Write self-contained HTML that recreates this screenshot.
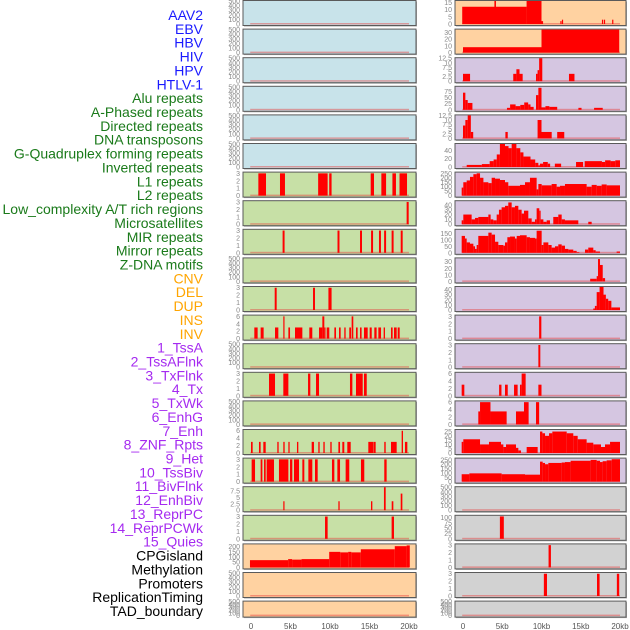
<!DOCTYPE html>
<html><head><meta charset="utf-8">
<style>
html,body{margin:0;padding:0;background:#fff;width:630px;height:630px;overflow:hidden}
svg{display:block;font-family:"Liberation Sans",sans-serif}
</style></head>
<body>
<svg id="chart" width="630" height="630" viewBox="0 0 630 630" xmlns="http://www.w3.org/2000/svg">
<g id="labels"></g>
<g id="panels"></g>
<g id="xaxis"></g>
</svg>
<script>
const trackNames = ["AAV2","EBV","HBV","HIV","HPV","HTLV-1","Alu repeats","A-Phased repeats","Directed repeats","DNA transposons","G-Quadruplex forming repeats","Inverted repeats","L1 repeats","L2 repeats","Low_complexity A/T rich regions","Microsatellites","MIR repeats","Mirror repeats","Z-DNA motifs","CNV","DEL","DUP","INS","INV","1_TssA","2_TssAFlnk","3_TxFlnk","4_Tx","5_TxWk","6_EnhG","7_Enh","8_ZNF_Rpts","9_Het","10_TssBiv","11_BivFlnk","12_EnhBiv","13_ReprPC","14_ReprPCWk","15_Quies","CPGisland","Methylation","Promoters","ReplicationTiming","TAD_boundary"];
const trackGroups = [6,13,5,15,5];
const groupColors = ["#1a1aff","#1a7a1a","#ffa500","#a52af0","#000000"];
const xTickValues = [0,5,10,15,20];
const xTickLabels = ["0","5kb","10kb","15kb","20kb"];

const T500=[0,100,200,300,400,500], T3=[0,1,2,3], T6=[0,2,4,6];
const leftBg = ["b","b","b","b","b","b","g","g","g","g","g","g","g","g","g","g","g","g","g","p","p","p"];
const rightBg = ["p","p","l","l","l","l","l","l","l","l","l","l","l","l","l","l","l","y","y","y","y","y"];
const leftTicks = [T500,T500,T500,T500,T500,T500,T3,T3,T3,T500,T3,T6,T500,T3,T500,T6,T3,[0,2.5,5,7.5],T3,[0,50,100,150,200],T500,T500];
const leftMax = [500,500,500,500,500,500,3.1,3.1,3.1,500,3.1,6.2,500,3.1,500,6.2,3.1,9,3.1,222,500,500];
const rightTicks = [[0,5,10,15],[0,10,20,30],[0,2.5,5,7.5,10,12.5],[0,25,50,75],[0,2.5,5,7.5,10,12.5],[0,20,40],[0,50,100,150,200,250],[0,10,20,30,40],[0,50,100,150],[0,10,20,30],[0,10,20,30,40],T3,T3,T6,T6,[0,5,10,15,20,25],[0,50,100,150,200,250],T500,[0,25,50,75,100],T3,T3,T500];
const rightMax = [16,34,12.5,94,12.5,55,258,47.6,177,35,45,3.1,3.1,6.2,6.2,26.8,265,500,108,3.1,3.1,500];

const leftBars = [[],[],[],[],[],[],
 [[0.93,1.9,3],[3.67,4.3,3],[8.5,9.7,3],[9.9,10.2,3],[15.15,15.57,3],[16.5,17.1,3],[17.9,18.35,3],[18.8,19.75,3]],
 [[19.7,19.96,3]],
 [[4.0,4.25,3],[10.95,11.2,3],[13.8,14.05,3],[15.2,15.45,3],[16.2,16.45,3],[16.85,17.1,3],[17.8,18.05,3],[18.95,19.2,3]],
 [],
 [[3.0,3.25,3],[7.85,8.1,3],[9.8,10.2,3]],
 [[0.42,0.84,3],[1.22,1.6,3],[3.04,3.46,3],[4.09,4.22,6],[4.73,4.94,3],[5.57,6.5,3],[7.38,7.76,3],[8.61,9.03,3],[9.03,9.28,6],[9.28,9.37,3],[9.58,9.91,3],[10.55,10.76,3],[11.14,11.35,3],[11.81,11.98,3],[12.44,12.66,3],[12.74,12.95,6],[13.29,13.5,3],[13.8,14.0,3],[14.3,14.77,3],[15.02,15.28,3],[15.61,15.9,3],[16.12,16.46,3],[16.79,16.96,3],[17.72,17.93,3],[18.1,18.44,3],[18.57,18.82,3]],
 [],
 [[2.28,3.04,3],[4.09,4.73,3],[7.22,7.51,3],[8.23,8.61,3],[12.53,12.83,3],[13.29,14.14,3],[14.3,14.65,3]],
 [],
 [[0,0.21,3],[1.01,1.22,3],[1.56,1.86,3],[3.33,3.5,3],[4.09,4.26,3],[4.73,4.89,3],[5.82,5.99,3],[7.68,7.97,3],[8.52,8.69,3],[9.16,9.33,3],[10.04,10.21,3],[11.06,11.27,3],[11.56,11.81,3],[12.19,12.62,3],[14.85,15.53,3],[15.57,15.78,3],[16.87,17.05,3],[17.72,18.44,3],[19.07,19.24,6],[19.49,19.79,3]],
 [[0.08,0.51,3],[1.22,1.44,3],[1.65,1.86,3],[1.98,2.91,3],[3.54,4.73,3],[4.94,5.23,3],[5.44,6.08,3],[6.5,6.75,3],[7.26,7.76,3],[8.1,8.44,3],[10.25,10.55,3],[10.93,11.27,3],[11.98,12.44,3],[13.92,14.34,3],[16.87,17.17,3]],
 [[4.09,4.22,3.5],[11.06,11.22,3.5],[15.19,15.36,3.5],[16.83,17.05,9.5],[17.81,18.02,3.5],[18.95,19.16,6.5]],
 [[9.37,9.7,3],[17.8,18.1,3]],
 [[-0.13,4.7,70],[4.7,5.2,80],[5.2,6.4,75],[6.4,9.9,80],[9.9,11.3,150],[11.3,12.3,145],[12.3,12.7,150],[12.7,13.9,145],[13.9,18.2,175],[18.2,19.7,205],[19.7,20.1,212]],
 [],[]
];

const rightBars = [
 [[-0.1,8.1,12],[8.1,10,17],[4.0,4.2,17],[10,10.2,2],[12.4,12.5,2],[12.6,12.75,3],[17.7,17.85,3],[17.95,18.05,3],[19.0,19.15,3]],
 [[0,10,8],[10,19.9,35]],
 [[0,0.9,4],[6.4,6.8,4],[6.8,7.2,6.5],[7.2,7.6,4],[9.3,9.5,4],[9.5,9.7,6],[9.7,10.1,12.5],[13.5,14.2,4]],
 [[0,0.3,70],[0.3,0.6,40],[0.6,1.2,28],[5.6,6.0,8],[6.0,6.7,22],[6.7,7.3,15],[7.3,7.8,20],[7.8,8.3,30],[8.3,8.6,22],[8.6,9.0,12],[9.3,9.6,60],[9.6,10.0,90],[10.0,10.5,10],[10.5,11.0,15],[11.0,12.0,12],[14.7,15.1,8],[16.7,17.8,8]],
 [[0,0.3,7],[0.3,0.6,10],[0.6,1.0,12.5],[1.0,1.3,3.5],[5.4,5.7,3.5],[9.5,10.0,10],[10.0,11.3,3.5],[12.0,12.9,3.5]],
 [[0.47,2.4,5],[2.4,3.4,7],[3.4,3.9,14],[3.9,4.3,18],[4.3,4.7,30],[4.7,5.35,55],[5.35,5.8,50],[5.8,6.2,45],[6.2,6.8,55],[6.8,7.3,45],[7.3,7.7,35],[7.7,8.6,25],[8.6,9.2,18],[9.2,9.6,10],[9.6,9.8,4],[9.8,10.2,8],[10.2,10.8,12],[10.8,11.1,8],[11.7,12.5,8],[14.4,15.3,12],[15.5,17.7,14],[17.7,18.1,12],[18.1,18.8,16],[18.8,19.4,14],[19.4,20,16]],
 [[-0.17,0.04,90],[0.04,0.47,150],[0.47,0.89,170],[0.89,1.32,210],[1.32,1.74,240],[1.74,2.17,250],[2.17,2.6,200],[2.6,3.23,150],[3.23,3.65,140],[3.65,4.08,200],[4.08,4.71,190],[4.71,5.35,175],[5.35,5.77,150],[5.77,7.26,110],[7.26,7.9,120],[7.9,8.53,150],[8.53,9.38,200],[9.38,9.6,70],[9.6,10.02,130],[10.02,11.29,115],[11.29,11.93,130],[11.93,12.36,100],[12.36,12.99,110],[12.99,15.75,130],[15.75,16.39,100],[16.39,17.03,120],[17.03,17.66,110],[17.66,18.3,125],[18.3,20,115]],
 [[-0.17,0.04,8],[0.04,1.1,20],[1.1,1.53,10],[1.53,1.95,13],[1.95,3.23,15],[3.23,3.52,20],[3.52,3.86,10],[3.86,4.29,8],[4.29,4.58,20],[4.58,4.92,30],[4.92,5.35,35],[5.35,5.77,38],[5.77,6.2,45],[6.2,6.62,35],[6.62,7.05,38],[7.05,7.47,30],[7.47,7.77,22],[7.77,8.32,28],[8.32,8.75,12],[8.75,9.17,5],[9.17,9.38,10],[9.38,9.72,33],[9.72,9.89,28],[9.89,10.24,10],[10.24,10.66,5],[10.66,11.08,8],[11.5,12.14,15],[12.14,12.57,20],[12.57,12.99,10],[12.99,14.69,8],[15.96,16.39,5]],
 [[-0.17,0.25,130],[0.25,0.47,110],[0.47,0.89,80],[0.89,1.32,70],[1.32,1.53,50],[1.53,1.74,30],[1.74,1.95,60],[1.95,3.23,130],[3.23,3.65,155],[3.65,4.08,140],[4.08,4.5,85],[4.5,5.14,60],[5.14,5.35,55],[5.35,5.65,80],[5.65,5.99,120],[5.99,6.62,125],[6.62,6.84,110],[6.84,7.26,130],[7.26,8.11,135],[8.11,8.53,120],[8.53,9.17,115],[9.17,9.38,110],[9.38,10.02,170],[10.02,10.24,60],[10.24,10.87,80],[10.87,11.29,60],[11.29,11.72,40],[11.72,12.14,50],[12.14,12.57,65],[12.57,12.99,55],[12.99,13.42,30],[13.42,14.05,25],[14.05,14.48,15],[14.48,14.82,5],[15.54,15.96,25],[15.96,16.6,40],[16.6,16.9,20],[16.9,17.45,10],[19.57,20,10]],
 [[16.2,17.03,4],[17.03,17.2,8],[17.2,17.45,34],[17.45,17.8,25],[17.8,18.1,5]],
 [[16.6,16.8,3],[16.8,17.03,8],[17.03,17.4,35],[17.4,17.9,45],[17.9,18.2,30],[18.2,18.5,22],[18.5,18.9,18],[18.9,20,5]],
 [[9.7,9.98,3]],
 [[9.6,9.85,3]],
 [[-0.17,0.17,3],[4.6,4.9,3],[5.35,5.7,3],[6.5,6.96,3],[7.26,7.47,3],[7.47,7.98,6],[9.6,10.0,3]],
 [[1.95,2.17,3.5],[2.17,3.5,6],[3.5,5.56,3.5],[6.75,7.77,3.5],[7.77,8.36,6],[9.3,9.7,6]],
 [[-0.17,0.04,13],[0.04,2.17,16],[2.17,3.31,10],[3.31,4.84,13],[4.84,5.14,10],[5.14,5.48,7],[5.48,6.75,10],[6.75,7.05,6],[7.05,7.39,3],[8.11,9.51,7],[9.81,10.11,25],[10.11,10.45,23],[10.45,10.96,20],[10.96,11.38,23],[11.38,13.21,25],[13.21,14.05,23],[14.05,14.61,20],[14.61,15.75,16],[15.75,16.6,12],[16.6,17.58,10],[17.58,18.09,7],[18.09,18.73,10],[18.73,20,13]],
 [[-0.17,0.81,85],[0.81,4.92,95],[4.92,7.9,85],[7.9,9.81,80],[9.81,10.15,230],[10.15,10.45,215],[10.45,10.87,200],[10.87,12.57,215],[12.57,12.99,220],[12.99,13.71,225],[13.71,16.26,240],[16.26,17.03,250],[17.03,17.45,240],[17.45,17.79,225],[17.79,18.3,235],[18.3,18.94,245],[18.94,20,258]],
 [],
 [[4.7,5.2,105]],
 [[10.9,11.2,3]],
 [[10.3,10.7,3],[17.07,17.4,3],[19.6,19.9,3]],
 []
];

const NS="http://www.w3.org/2000/svg";
const bgColors={b:"#c8e3ea",g:"#c7e0a6",p:"#ffd2a1",l:"#d5c6e1",y:"#d2d2d2"};
function mk(tag,attrs,parent){const e=document.createElementNS(NS,tag);for(const k in attrs)e.setAttribute(k,attrs[k]);parent.appendChild(e);return e;}

// labels
const lg=document.getElementById('labels');
let gi=0,cnt=0;
trackNames.forEach((n,i)=>{
  while(cnt>=trackGroups[gi]){cnt=0;gi++;}
  cnt++;
  const t=mk('text',{x:203,y:15+13.86*i+5,'text-anchor':'end','font-size':'14',fill:groupColors[gi]},lg);
  t.textContent=n;
  
  
});

const cols=[{x0:243,w:173,z:251,s:7.9,bars:leftBars,ticks:leftTicks,max:leftMax,bg:leftBg,name:'left'},
            {x0:455,w:171,z:463,s:7.85,bars:rightBars,ticks:rightTicks,max:rightMax,bg:rightBg,name:'right'}];
const pg=document.getElementById('panels');
for(let r=0;r<22;r++){
  const top=28.6*r+0.5;
  const h=(r===21)?16:25;
  cols.forEach(c=>{
    const g=mk('g',{},pg);
    
    
    mk('rect',{x:c.x0+1,y:top+1,width:c.w,height:h,fill:'#aaa'},g);
    mk('rect',{x:c.x0,y:top,width:c.w,height:h,fill:bgColors[c.bg[r]],stroke:'#5a5a5a','stroke-width':1},g);
    const ymax=c.max[r];
    const y0=top+h-1.5;
    const yv=v=>y0-Math.min(v,ymax)/ymax*(h-2);
    const xv=k=>c.z+k*c.s;
    // baseline
    const bl=mk('rect',{x:xv(-0.1),y:y0-1,width:xv(20)-xv(-0.1),height:1.5,fill:'rgba(230,60,60,0.45)'},g);
    
    
    c.bars[r].forEach(b=>{
      const x1=xv(b[0]),x2=xv(b[1]);
      const rc=mk('rect',{x:x1,y:yv(b[2]),width:Math.max(x2-x1,1.2),height:y0-yv(b[2]),fill:'#ff0000'},g);
      
      
    });
    c.ticks[r].forEach(tv=>{
      const t=mk('text',{x:c.x0-3,y:yv(tv)+2.5,'text-anchor':'end','font-size':'7',fill:'#888'},g);
      t.textContent=String(tv);
      
      
    });
  });
}
const xg=document.getElementById('xaxis');
cols.forEach(c=>{
  xTickValues.forEach((v,i)=>{
    const t=mk('text',{x:c.z+v*c.s,y:629,'text-anchor':'middle','font-size':'8',fill:'#555'},xg);
    t.textContent=xTickLabels[i];
    
    
  });
});
</script>
</body></html>
